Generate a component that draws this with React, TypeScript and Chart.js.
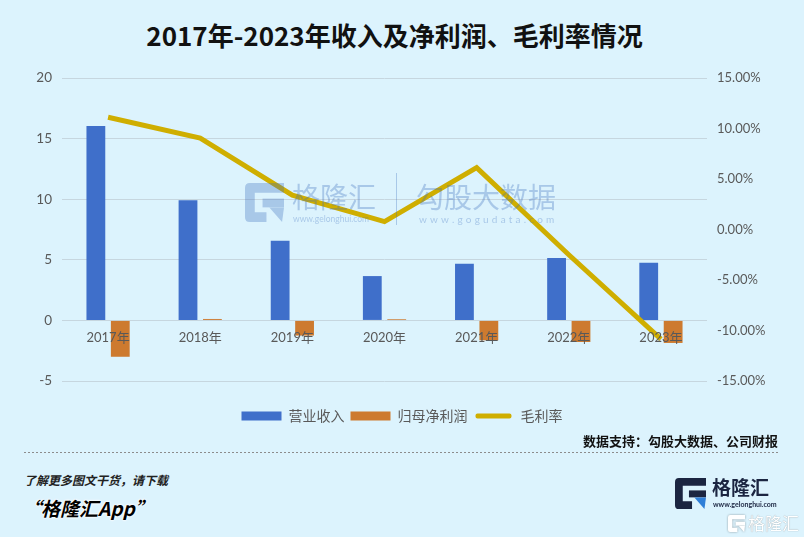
import React, { useEffect, useRef } from 'react';
import { Chart, registerables } from 'chart.js';

Chart.register(...registerables);

const categories = ['2017年', '2018年', '2019年', '2020年', '2021年', '2022年', '2023年'];
const seriesNames = ['营业收入', '归母净利润', '毛利率'];
const revenue = [16.05, 9.92, 6.58, 3.66, 4.67, 5.16, 4.75];
const netProfit = [-3.0, 0.12, -1.25, 0.1, -1.64, -1.78, -1.86];
const grossMargin = [11.12, 9.06, 3.41, 0.79, 6.13, -2.5, -10.85];
const leftAxis = { min: -5, max: 20, step: 5 };
const rightAxis = { min: -15, max: 15, step: 5 };

const BG = '#dcf3fd';
const BLUE = '#3f6fca';
const ORANGE = '#cd7a2f';
const GOLD = '#cfae00';
const TICK = '#595959';
const WM = 'rgba(60,110,190,0.32)';

function GIcon({ size, dark, accent }: { size: number; dark: string; accent: string }) {
  return (
    <svg width={size} height={size} viewBox="0 0 40 40" style={{ display: 'block' }}>
      <path d="M0,5 Q0,0 5,0 H40 V10 H10 V30 H22 V40 H5 Q0,40 0,35 Z" fill={dark} />
      <path d="M18,16 H40 V25 H18 Z" fill={dark} />
      <path d="M25,25 H40 L38,40 Z" fill={accent} />
    </svg>
  );
}

export default function App() {
  const ref = useRef<HTMLCanvasElement>(null);

  useEffect(() => {
    document.body.style.margin = '0';
    const chart = new Chart(ref.current as HTMLCanvasElement, {
      type: 'bar',
      data: {
        labels: categories,
        datasets: [
          {
            type: 'bar',
            label: seriesNames[0],
            data: revenue,
            backgroundColor: BLUE,
            yAxisID: 'y',
            order: 1,
            categoryPercentage: 0.53,
            barPercentage: 0.77,
          },
          {
            type: 'bar',
            label: seriesNames[1],
            data: netProfit,
            backgroundColor: ORANGE,
            yAxisID: 'y',
            order: 1,
            categoryPercentage: 0.53,
            barPercentage: 0.77,
          },
          {
            type: 'line',
            label: seriesNames[2],
            data: grossMargin,
            borderColor: GOLD,
            backgroundColor: GOLD,
            borderWidth: 5,
            pointRadius: 0,
            tension: 0,
            yAxisID: 'y1',
            order: 0,
          },
        ] as any,
      },
      options: {
        responsive: false,
        animation: false,
        layout: { padding: { top: 16, bottom: 7, left: 0, right: 0 } },
        plugins: {
          tooltip: { enabled: false },
          legend: {
            position: 'bottom',
            title: { display: true, text: '', font: { size: 2, lineHeight: 1 }, padding: { top: 0, bottom: 20 } },
            labels: {
              boxWidth: 40,
              boxHeight: 9,
              padding: 6,
              color: TICK,
              font: { family: "'Noto Sans CJK SC', sans-serif", size: 14 },
              generateLabels: (c: any) =>
                c.data.datasets.map((ds: any, i: number) => {
                  const isLine = ds.type === 'line';
                  return {
                    text: ds.label,
                    datasetIndex: i,
                    fillStyle: isLine ? ds.borderColor : ds.backgroundColor,
                    strokeStyle: isLine ? BG : ds.backgroundColor,
                    lineWidth: isLine ? 4 : 0,
                    borderRadius: isLine ? 4 : 0,
                    hidden: false,
                    fontColor: TICK,
                  };
                }),
            },
          },
        },
        scales: {
          x: {
            position: { y: 0 } as any,
            grid: { display: false, drawTicks: false },
            border: { display: false },
            ticks: { z: 1, color: TICK, padding: 10, font: { family: "Lato, 'Noto Sans CJK SC', sans-serif", size: 13 } },
          },
          y: {
            position: 'left',
            min: leftAxis.min,
            max: leftAxis.max,
            ticks: {
              stepSize: leftAxis.step,
              color: TICK,
              padding: 10,
              font: { family: 'Lato, sans-serif', size: 13.5 },
            },
            grid: { color: '#c6d6df', lineWidth: 1, drawTicks: false },
            border: { display: false },
            afterFit: (s: any) => {
              s.width = 62;
            },
          },
          y1: {
            position: 'right',
            min: rightAxis.min,
            max: rightAxis.max,
            ticks: {
              stepSize: rightAxis.step,
              color: TICK,
              padding: 10,
              font: { family: 'Lato, sans-serif', size: 13 },
              callback: (v: any) => Number(v).toFixed(2) + '%',
            },
            grid: { display: false, drawTicks: false },
            border: { display: false },
            afterFit: (s: any) => {
              s.width = 97;
            },
          },
        },
      } as any,
    });
    return () => chart.destroy();
  }, []);

  const cjk = "'Noto Sans CJK SC', sans-serif";

  return (
    <div style={{ position: 'relative', width: 804, height: 537, background: BG, overflow: 'hidden', fontFamily: cjk }}>
      <div
        style={{
          position: 'absolute', left: 0, top: 19, width: 789, textAlign: 'center',
          fontSize: 26, fontWeight: 700, lineHeight: '32px', color: '#111', whiteSpace: 'nowrap',
        }}
      >
        2017年-2023年收入及净利润、毛利率情况
      </div>

      <div style={{ position: 'absolute', left: 0, top: 60, width: 804, height: 380 }}>
        <canvas ref={ref} width={804} height={380} style={{ display: 'block', width: 804, height: 380 }} />
      </div>

      {/* center watermark */}
      <div style={{ position: 'absolute', left: 245, top: 183, opacity: 0.32 }}>
        <GIcon size={39} dark="rgb(60,110,190)" accent="rgb(60,110,190)" />
      </div>
      <div style={{ position: 'absolute', left: 292, top: 177, fontSize: 28, lineHeight: '38px', color: WM, whiteSpace: 'nowrap' }}>格隆汇</div>
      <div style={{ position: 'absolute', left: 293, top: 214, fontSize: 8.5, lineHeight: '11px', color: WM, whiteSpace: 'nowrap', fontFamily: 'Lato, sans-serif' }}>www.gelonghui.com</div>
      <div style={{ position: 'absolute', left: 396, top: 173, width: 1, height: 52, background: WM }} />
      <div style={{ position: 'absolute', left: 416, top: 177, fontSize: 28, lineHeight: '38px', color: WM, whiteSpace: 'nowrap' }}>勾股大数据</div>
      <div style={{ position: 'absolute', left: 419, top: 213, fontSize: 10, lineHeight: '13px', letterSpacing: 3.2, color: WM, whiteSpace: 'nowrap', fontFamily: 'Lato, sans-serif' }}>www.gogudata.com</div>

      {/* footer */}
      <div style={{ position: 'absolute', right: 26, top: 432, fontSize: 13, fontWeight: 700, lineHeight: '18px', color: '#111', whiteSpace: 'nowrap' }}>
        数据支持：勾股大数据、公司财报
      </div>
      <div
        style={{
          position: 'absolute', left: 24, top: 452, width: 754, height: 1,
          background: 'repeating-linear-gradient(90deg, #8c8c8c 0 2px, transparent 2px 4px)',
        }}
      />
      <div style={{ position: 'absolute', left: 24, top: 471, fontSize: 12, fontWeight: 700, fontStyle: 'italic', lineHeight: '17px', color: '#222', whiteSpace: 'nowrap' }}>
        了解更多图文干货，请下载
      </div>
      <div
        style={{
          position: 'absolute', left: 22, top: 495, fontSize: 19, fontWeight: 700, fontStyle: 'italic', lineHeight: '26px',
          color: '#000', whiteSpace: 'nowrap',
          textShadow: '0 0 2px #fff, 0 0 2px #fff, 0 0 3px #fff',
        }}
      >
        “格隆汇App”
      </div>

      {/* logo */}
      <div style={{ position: 'absolute', left: 675, top: 478 }}>
        <GIcon size={31} dark="#1b2541" accent="#2f7fd8" />
      </div>
      <div style={{ position: 'absolute', left: 712, top: 474, fontSize: 19, fontWeight: 700, lineHeight: '26px', color: '#1b2541', whiteSpace: 'nowrap' }}>格隆汇</div>
      <div style={{ position: 'absolute', left: 713, top: 500, fontSize: 7, lineHeight: '9px', color: '#1b2541', whiteSpace: 'nowrap', fontFamily: 'Lato, sans-serif', fontWeight: 700 }}>www.gelonghui.com</div>

      {/* corner watermark */}
      <div style={{ position: 'absolute', left: 728, top: 515, filter: 'drop-shadow(0 0 1px rgba(0,0,0,0.35))' }}>
        <GIcon size={17} dark="#ffffff" accent="#ffffff" />
      </div>
      <div style={{ position: 'absolute', left: 748, top: 511, fontSize: 17, lineHeight: '24px', color: '#fff', whiteSpace: 'nowrap', textShadow: '0 0 1px rgba(0,0,0,0.45)' }}>格隆汇</div>
    </div>
  );
}
